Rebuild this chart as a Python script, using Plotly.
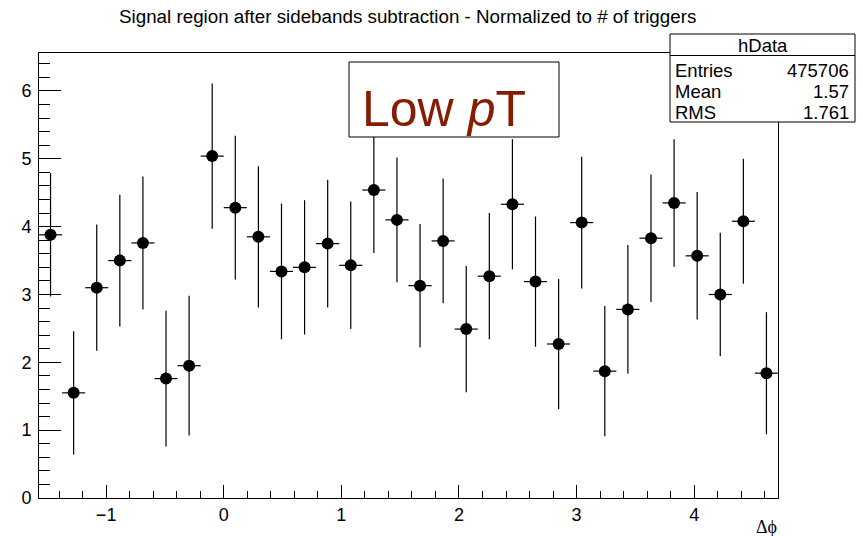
import plotly.graph_objects as go

# ---- data ----
bin_centers = [-1.4726, -1.2763, -1.0799, -0.8836, -0.6872, -0.4909, -0.2945, -0.0982,
               0.0982, 0.2945, 0.4909, 0.6872, 0.8836, 1.0799, 1.2763, 1.4726,
               1.6690, 1.8653, 2.0617, 2.2580, 2.4544, 2.6507, 2.8471, 3.0434,
               3.2398, 3.4361, 3.6325, 3.8288, 4.0252, 4.2215, 4.4179, 4.6142]
half_bin = [0.0982] * 32
values = [3.88, 1.55, 3.10, 3.50, 3.76, 1.76, 1.95, 5.04, 4.28, 3.85, 3.34, 3.40,
          3.75, 3.43, 4.54, 4.10, 3.13, 3.79, 2.49, 3.27, 4.33, 3.19, 2.27, 4.06,
          1.87, 2.78, 3.83, 4.35, 3.57, 3.00, 4.08, 1.84]
errors = [0.91, 0.91, 0.93, 0.97, 0.98, 1.00, 1.03, 1.07, 1.06, 1.04, 1.00, 0.99,
          0.94, 0.94, 0.93, 0.92, 0.91, 0.92, 0.93, 0.93, 0.96, 0.96, 0.96, 0.97,
          0.96, 0.95, 0.94, 0.94, 0.94, 0.91, 0.92, 0.90]

title_text = "Signal region after sidebands subtraction - Normalized to # of triggers"
stats_name = "hData"
stats_labels = ["Entries", "Mean", "RMS"]
stats_values = ["475706", "1.57", "1.761"]
x_range = [-1.5708, 4.7124]
y_range = [0, 6.56]

# ---- layout geometry (pixels) ----
W, H = 863, 536
L, R, T, B = 39, 85, 53, 38
PW, PH = W - L - R, H - T - B


def px(x):
    return (x - L) / PW


def py(y):
    return (H - B - y) / PH


FONT = "Liberation Sans, Arial, Helvetica, sans-serif"
RED = "#861c02"

fig = go.Figure()
fig.add_trace(go.Scatter(
    x=bin_centers, y=values, mode="markers",
    marker=dict(color="black", size=12),
    error_y=dict(type="data", array=errors, color="black", thickness=1.2, width=0),
    error_x=dict(type="data", array=half_bin, color="black", thickness=1.2, width=0),
    showlegend=False, hoverinfo="x+y",
))

shapes = []
annotations = []

# Low pT box
shapes.append(dict(type="rect", xref="paper", yref="paper",
                   x0=px(349), x1=px(559), y0=py(137), y1=py(62),
                   line=dict(color="black", width=1), fillcolor="white", layer="above"))
annotations.append(dict(xref="paper", yref="paper", x=px(361), y=py(109),
                        xanchor="left", yanchor="middle", showarrow=False, borderpad=0,
                        text="Low <i>p</i>T", font=dict(family=FONT, size=50, color=RED)))

# stats box
shapes.append(dict(type="rect", xref="paper", yref="paper",
                   x0=px(670), x1=px(855), y0=py(122), y1=py(34),
                   line=dict(color="black", width=1), fillcolor="white", layer="above"))
shapes.append(dict(type="line", xref="paper", yref="paper",
                   x0=px(670), x1=px(855), y0=py(55.5), y1=py(55.5),
                   line=dict(color="black", width=1), layer="above"))
annotations.append(dict(xref="paper", yref="paper", x=px(762.5), y=py(45.5),
                        xanchor="center", yanchor="middle", showarrow=False, borderpad=0,
                        text=stats_name, font=dict(family=FONT, size=18.5, color="black")))
rows_y = [70, 91, 112]
for lab, val, yy in zip(stats_labels, stats_values, rows_y):
    annotations.append(dict(xref="paper", yref="paper", x=px(674), y=py(yy),
                            xanchor="left", yanchor="middle", showarrow=False, borderpad=0,
                            text=lab, font=dict(family=FONT, size=18.5, color="black")))
    annotations.append(dict(xref="paper", yref="paper", x=px(850), y=py(yy),
                            xanchor="right", yanchor="middle", showarrow=False, borderpad=0,
                            text=val, font=dict(family=FONT, size=18.5, color="black")))

# title
annotations.append(dict(xref="paper", yref="paper", x=px(407), y=py(17),
                        xanchor="center", yanchor="middle", showarrow=False, borderpad=0,
                        text=title_text, font=dict(family=FONT, size=18.8, color="black")))
# x axis title
annotations.append(dict(xref="paper", yref="paper", x=px(778), y=py(527),
                        xanchor="right", yanchor="middle", showarrow=False, borderpad=0,
                        text="Δϕ", font=dict(family="Liberation Serif, DejaVu Serif, serif",
                                             size=18, color="black")))

fig.update_layout(
    width=W, height=H,
    margin=dict(l=L, r=R, t=T, b=B, pad=0),
    paper_bgcolor="white", plot_bgcolor="white",
    shapes=shapes, annotations=annotations,
    font=dict(family=FONT, size=18, color="black"),
    xaxis=dict(range=x_range, showgrid=False, zeroline=False,
               showline=True, linecolor="black", linewidth=1, mirror=True,
               ticks="inside", ticklen=13, tickwidth=1, tickcolor="black",
               tick0=0, dtick=1, tickfont=dict(family=FONT, size=18),
               minor=dict(ticks="inside", ticklen=7, tickwidth=1, tickcolor="black",
                          tick0=0, dtick=0.2, showgrid=False)),
    yaxis=dict(range=y_range, showgrid=False, zeroline=False,
               showline=True, linecolor="black", linewidth=1, mirror=True,
               ticks="inside", ticklen=22, tickwidth=1, tickcolor="black",
               tick0=0, dtick=1, tickfont=dict(family=FONT, size=18),
               ticklabelstandoff=3,
               minor=dict(ticks="inside", ticklen=11, tickwidth=1, tickcolor="black",
                          tick0=0, dtick=0.2, showgrid=False)),
)

fig.write_html("out.html")
